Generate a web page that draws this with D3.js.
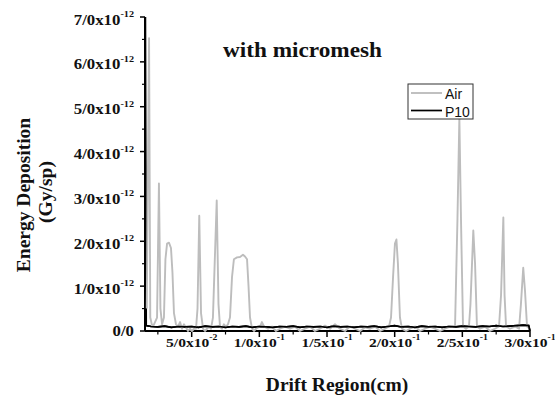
<!DOCTYPE html>
<html>
<head>
<meta charset="utf-8">
<script src="https://cdn.jsdelivr.net/npm/d3@7"></script>
<style>
  body { margin: 0; background: #fff; }
  svg { display: block; }
  .serif { font-family: "Liberation Serif", "Times New Roman", serif; font-weight: bold; fill: #111; }
  .sans { font-family: "Liberation Sans", Arial, sans-serif; fill: #111; }
</style>
</head>
<body>
<div id="chart"></div>
<script>
// Drift position (cm) and energy deposition (x 1e-12 Gy/sp)
const airX = [0.0168, 0.0185, 0.0194, 0.0205, 0.0214, 0.0229, 0.0244, 0.0258, 0.0269, 0.0281,
  0.0295, 0.0306, 0.0318, 0.0332, 0.0347, 0.0358, 0.0369, 0.0384, 0.0399, 0.0414,
  0.0428, 0.0443, 0.0458, 0.0473, 0.0487, 0.0502, 0.0517, 0.0532, 0.0543, 0.0556,
  0.0569, 0.0584, 0.0598, 0.0613, 0.0628, 0.0643, 0.0657, 0.0685, 0.0698, 0.0709,
  0.0723, 0.0738, 0.0753, 0.0768, 0.0783, 0.0798, 0.0812, 0.0835, 0.0857, 0.0879,
  0.0894, 0.0909, 0.0920, 0.0931, 0.0946, 0.0960, 0.0975, 0.1005, 0.1019, 0.1034,
  0.1064, 0.1094, 0.1123, 0.1153, 0.1190, 0.1226, 0.1263, 0.1300, 0.1337, 0.1374,
  0.1411, 0.1448, 0.1485, 0.1522, 0.1559, 0.1596, 0.1633, 0.1670, 0.1707, 0.1744,
  0.1781, 0.1818, 0.1855, 0.1892, 0.1929, 0.1958, 0.1973, 0.1988, 0.2002, 0.2013,
  0.2024, 0.2039, 0.2054, 0.2084, 0.2113, 0.2150, 0.2187, 0.2224, 0.2261, 0.2298,
  0.2335, 0.2372, 0.2409, 0.2446, 0.2464, 0.2478, 0.2490, 0.2505, 0.2527, 0.2549,
  0.2560, 0.2581, 0.2594, 0.2608, 0.2630, 0.2667, 0.2704, 0.2741, 0.2771, 0.2786,
  0.2803, 0.2812, 0.2823, 0.2852, 0.2889, 0.2919, 0.2933, 0.2950, 0.2963, 0.2978, 0.3000]
const airY = [0.5, 6.53, 0.3, 0.15, 0.1, 0.2, 0.3, 3.29, 0.5, 0.15,
  0.3, 1.6, 1.95, 1.97, 1.85, 1.3, 0.4, 0.15, 0.1, 0.2,
  0.05, 0.15, 0.08, 0.0, 0.05, 0.0, 0.05, 0.05, 0.5, 2.57,
  0.4, 0.05, 0.0, 0.05, 0.1, 0.05, 0.3, 2.91, 0.6, 0.1,
  0.05, 0.15, 0.1, 0.15, 0.3, 1.2, 1.6, 1.64, 1.65, 1.7,
  1.66, 1.6, 1.0, 0.3, 0.05, 0.0, 0.05, 0.1, 0.2, 0.1,
  0.05, 0.1, 0.0, 0.05, 0.1, 0.05, 0.1, 0.0, 0.05, 0.1,
  0.0, 0.05, 0.12, 0.05, 0.15, 0.05, 0.0, 0.1, 0.05, 0.0,
  0.08, 0.05, 0.1, 0.0, 0.05, 0.1, 0.3, 1.2, 1.95, 2.04,
  1.5, 0.3, 0.05, 0.0, 0.05, 0.1, 0.0, 0.05, 0.1, 0.05,
  0.0, 0.05, 0.1, 0.1, 2.5, 4.75, 2.5, 0.1, 0.05, 0.1,
  0.6, 2.24, 1.5, 0.1, 0.05, 0.1, 0.0, 0.05, 0.1, 0.8,
  2.53, 0.8, 0.1, 0.05, 0.1, 0.05, 0.6, 1.41, 0.9, 0.1, 0.05]

const p10X = [0.0158, 0.0164, 0.0200, 0.0250, 0.0300, 0.0350, 0.0400, 0.0450, 0.0500, 0.0550,
  0.0600, 0.0650, 0.0700, 0.0750, 0.0800, 0.0850, 0.0900, 0.0950, 0.1000, 0.1050,
  0.1100, 0.1150, 0.1200, 0.1250, 0.1300, 0.1350, 0.1400, 0.1450, 0.1500, 0.1550,
  0.1600, 0.1650, 0.1700, 0.1750, 0.1800, 0.1850, 0.1900, 0.1950, 0.2000, 0.2050,
  0.2100, 0.2150, 0.2200, 0.2250, 0.2300, 0.2350, 0.2400, 0.2450, 0.2500, 0.2550,
  0.2600, 0.2650, 0.2700, 0.2750, 0.2800, 0.2850, 0.2900, 0.2950, 0.2990, 0.3000]
const p10Y = [7.0, 0.12, 0.1, 0.09, 0.11, 0.08, 0.1, 0.09, 0.1, 0.08,
  0.11, 0.09, 0.1, 0.08, 0.1, 0.09, 0.11, 0.08, 0.1, 0.09,
  0.08, 0.1, 0.09, 0.11, 0.08, 0.1, 0.09, 0.1, 0.08, 0.11,
  0.09, 0.1, 0.08, 0.1, 0.09, 0.11, 0.08, 0.1, 0.12, 0.09,
  0.1, 0.08, 0.11, 0.09, 0.1, 0.08, 0.1, 0.09, 0.11, 0.1,
  0.09, 0.11, 0.1, 0.12, 0.1, 0.11, 0.12, 0.13, 0.12, 0.0]

const xTicks = [0.05, 0.10, 0.15, 0.20, 0.25, 0.30]
const xTickLabels = [["5/0x10", "-2"], ["1/0x10", "-1"], ["1/5x10", "-1"], ["2/0x10", "-1"], ["2/5x10", "-1"], ["3/0x10", "-1"]]
const xMinor = [0.025, 0.075, 0.125, 0.175, 0.225, 0.275]
const yTicks = [0, 1, 2, 3, 4, 5, 6, 7]
const yTickLabels = [["0/0", ""], ["1/0x10", "-12"], ["2/0x10", "-12"], ["3/0x10", "-12"], ["4/0x10", "-12"], ["5/0x10", "-12"], ["6/0x10", "-12"], ["7/0x10", "-12"]]
const yMinor = [0.5, 1.5, 2.5, 3.5, 4.5, 5.5, 6.5]

const W = 555, H = 396
const svg = d3.select("#chart").append("svg").attr("width", W).attr("height", H)

const x = d3.scaleLinear().domain([0.0155, 0.3]).range([145, 530])
const y = d3.scaleLinear().domain([0, 7]).range([331, 17])

const line = d3.line().x(d => x(d[0])).y(d => y(d[1]))

// axes first so the curves sit on top of the axis lines
const axes = svg.append("g").attr("stroke", "#000")
axes.append("line").attr("x1", x(0.0155)).attr("x2", x(0.3)).attr("y1", y(0)).attr("y2", y(0)).attr("stroke-width", 2)
axes.append("line").attr("x1", x(0.0155)).attr("x2", x(0.0155)).attr("y1", y(0)).attr("y2", y(7)).attr("stroke-width", 2)

axes.selectAll(".xt").data(xTicks).join("line")
  .attr("x1", d => x(d)).attr("x2", d => x(d)).attr("y1", y(0)).attr("y2", y(0) + 6).attr("stroke-width", 1.5)
axes.selectAll(".xm").data(xMinor).join("line")
  .attr("x1", d => x(d)).attr("x2", d => x(d)).attr("y1", y(0)).attr("y2", y(0) + 3.5).attr("stroke-width", 1.2)
axes.selectAll(".yt").data(yTicks).join("line")
  .attr("x1", x(0.0155) - 5).attr("x2", x(0.0155)).attr("y1", d => y(d)).attr("y2", d => y(d)).attr("stroke-width", 1.5)
axes.selectAll(".ym").data(yMinor).join("line")
  .attr("x1", x(0.0155) - 3).attr("x2", x(0.0155)).attr("y1", d => y(d)).attr("y2", d => y(d)).attr("stroke-width", 1.2)

// series
svg.append("path")
  .datum(p10X.map((v, i) => [v, p10Y[i]]))
  .attr("d", line)
  .attr("fill", "none")
  .attr("stroke", "#000")
  .attr("stroke-width", 1.7)

svg.append("path")
  .datum(airX.map((v, i) => [v, airY[i]]))
  .attr("d", line)
  .attr("fill", "none")
  .attr("stroke", "#bdbdbd")
  .attr("stroke-width", 1.9)
  .attr("stroke-linejoin", "round")

// redraw the flat P10 baseline over the grey noise, as in the original
svg.append("path")
  .datum(p10X.slice(1).map((v, i) => [v, p10Y[i + 1]]))
  .attr("d", line)
  .attr("fill", "none")
  .attr("stroke", "#000")
  .attr("stroke-width", 1.7)

// tick labels
function sciLabel(g, parts, size, supSize) {
  const t = g.append("text").attr("class", "serif").attr("font-size", size)
  t.append("tspan").text(parts[0])
  if (parts[1]) t.append("tspan").attr("font-size", supSize).attr("dy", -7.5).text(parts[1])
  return t
}

xTicks.forEach((d, i) => {
  const g = svg.append("g").attr("transform", `translate(${x(d)},347) scale(1.15,1)`)
  sciLabel(g, xTickLabels[i], 13.5, 8.5).attr("text-anchor", "middle")
})
yTicks.forEach((d, i) => {
  const dy = d === 0 ? 4.5 : 7.5
  const g = svg.append("g").attr("transform", `translate(134,${y(d) + dy}) scale(1.2,1)`)
  sciLabel(g, yTickLabels[i], 14, 8.5).attr("text-anchor", "end")
})

// titles
svg.append("text").attr("class", "serif")
  .attr("x", 223).attr("y", 57)
  .attr("font-size", 21)
  .attr("textLength", 159).attr("lengthAdjust", "spacingAndGlyphs")
  .text("with micromesh")

svg.append("text").attr("class", "serif")
  .attr("x", 337).attr("y", 391)
  .attr("text-anchor", "middle")
  .attr("font-size", 19.5)
  .text("Drift Region(cm)")

svg.append("text").attr("class", "serif")
  .attr("transform", "translate(30,195) rotate(-90)")
  .attr("text-anchor", "middle")
  .attr("font-size", 19.5)
  .text("Energy Deposition")
svg.append("text").attr("class", "serif")
  .attr("transform", "translate(52,192) rotate(-90)")
  .attr("text-anchor", "middle")
  .attr("font-size", 19.5)
  .text("(Gy/sp)")

// legend
const series = [{ name: "Air", color: "#bdbdbd", w: 1.9 }, { name: "P10", color: "#000", w: 1.7 }]
const legend = svg.append("g").attr("transform", "translate(408,84)")
legend.append("rect").attr("width", 65).attr("height", 35)
  .attr("fill", "#fff").attr("stroke", "#333").attr("stroke-width", 1)
legend.selectAll("line").data(series).join("line")
  .attr("x1", 3).attr("x2", 34)
  .attr("y1", (d, i) => 9 + i * 17.5).attr("y2", (d, i) => 9 + i * 17.5)
  .attr("stroke", d => d.color).attr("stroke-width", d => d.w)
legend.selectAll("text").data(series).join("text")
  .attr("class", "sans")
  .attr("x", 37).attr("y", (d, i) => 15 + i * 17.5)
  .attr("font-size", 14)
  .text(d => d.name)
</script>
</body>
</html>
